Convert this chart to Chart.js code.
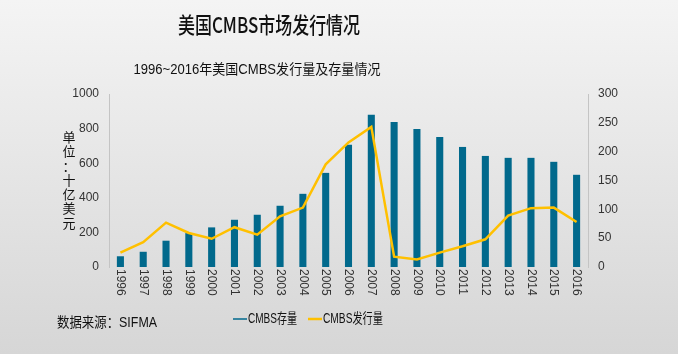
<!DOCTYPE html>
<html>
<head>
<meta charset="utf-8">
<script src="https://cdn.jsdelivr.net/npm/chart.js@4"></script>
<style>
  html, body { margin: 0; padding: 0; }
  body { width: 678px; height: 354px; background: linear-gradient(#f4f4f4, #d6d6d6); }
  #wrap { position: relative; width: 678px; height: 354px; }
</style>
</head>
<body>
<div id="wrap"><canvas id="cmbsChart" width="678" height="354"></canvas></div>
<script>
// years on the x axis
const years = ['1996','1997','1998','1999','2000','2001','2002','2003','2004','2005','2006',
  '2007','2008','2009','2010','2011','2012','2013','2014','2015','2016'];
// outstanding CMBS, left axis (billion USD)
const outstanding = [62, 88, 152, 196, 229, 273, 302, 354, 423, 544, 706,
  880, 838, 798, 752, 694, 642, 631, 631, 608, 533];
// CMBS issuance, right axis (billion USD)
const issuance = [25, 43, 77, 59, 49, 69, 56, 88, 103, 178, 216,
  243, 18, 13, 25, 36, 48, 89, 102, 103, 78];

const mainTitle = '美国CMBS市场发行情况';
const subTitle = '1996~2016年美国CMBS发行量及存量情况';
const yTitle = '单位：十亿美元';
const sourceNote = '数据来源：SIFMA';

const barColor = '#01698c';
const lineColor = '#ffc000';
const tickFont = '12px "Liberation Sans", "Noto Sans CJK SC", sans-serif';

// draws titles, rotated year labels, axis title, legend and source note
const decorations = {
  id: 'decorations',
  afterDraw(chart) {
    const ctx = chart.ctx;
    const xScale = chart.scales.x;
    ctx.save();
    ctx.fillStyle = '#111';
    ctx.textBaseline = 'middle';

    // main title, condensed to the reference width
    ctx.font = '500 22px "Noto Sans CJK SC", sans-serif';
    ctx.textAlign = 'center';
    ctx.fillText(mainTitle, 269, 25, 182);

    // subtitle
    ctx.font = '14px "Liberation Sans", "Noto Sans CJK SC", sans-serif';
    ctx.fillText(subTitle, 257, 70, 247);

    // year labels, rotated clockwise
    ctx.fillStyle = '#333';
    ctx.font = tickFont;
    ctx.textAlign = 'left';
    years.forEach((y, i) => {
      const x = xScale.getPixelForTick(i);
      ctx.save();
      ctx.translate(x, 269);
      ctx.rotate(Math.PI / 2);
      ctx.fillText(y, 0, 0);
      ctx.restore();
    });

    // vertical axis title, upright characters
    ctx.fillStyle = '#111';
    ctx.font = '13px "Noto Sans CJK SC", sans-serif';
    ctx.textAlign = 'center';
    [...yTitle].forEach((ch, i) => {
      ctx.fillText(ch, 69, 137 + i * 14.3);
    });

    // legend
    const items = [
      { label: chart.data.datasets[1].label, color: barColor, x: 233, w: 1.5, tw: 49 },
      { label: chart.data.datasets[0].label, color: lineColor, x: 308, w: 2.5, tw: 60 }
    ];
    ctx.font = '14px "Liberation Sans", "Noto Sans CJK SC", sans-serif';
    ctx.textAlign = 'left';
    items.forEach(it => {
      ctx.strokeStyle = it.color;
      ctx.lineWidth = it.w;
      ctx.beginPath();
      ctx.moveTo(it.x, 319);
      ctx.lineTo(it.x + 14, 319);
      ctx.stroke();
      ctx.fillStyle = '#111';
      ctx.fillText(it.label, it.x + 15, 319, it.tw);
    });

    // source note
    ctx.fillText(sourceNote, 57, 323, 100);
    ctx.restore();
  }
};

const tickOpts = (step) => ({
  stepSize: step,
  color: '#333',
  padding: 2,
  font: { family: '"Liberation Sans", sans-serif', size: 12 },
  callback: (v) => String(v)
});

new Chart(document.getElementById('cmbsChart'), {
  data: {
    labels: years,
    datasets: [
      {
        type: 'line',
        label: 'CMBS发行量',
        data: issuance,
        yAxisID: 'y1',
        borderColor: lineColor,
        borderWidth: 2.5,
        pointRadius: 0,
        tension: 0,
        order: 0
      },
      {
        type: 'bar',
        label: 'CMBS存量',
        data: outstanding,
        yAxisID: 'y',
        backgroundColor: barColor,
        barPercentage: 0.31,
        categoryPercentage: 1,
        order: 1
      }
    ]
  },
  options: {
    responsive: false,
    animation: false,
    layout: { padding: { top: 94, left: 0, right: 0, bottom: 0 } },
    plugins: {
      legend: { display: false },
      title: { display: false },
      tooltip: { enabled: false }
    },
    scales: {
      x: {
        grid: { display: false },
        border: { display: false },
        ticks: { display: false },
        afterFit(scale) { scale.height = 87; }
      },
      y: {
        position: 'left',
        min: 0,
        max: 1000,
        grid: { display: false },
        border: { display: true, color: '#c4c4c4' },
        ticks: tickOpts(200),
        afterFit(scale) { scale.width = 109; }
      },
      y1: {
        position: 'right',
        min: 0,
        max: 300,
        grid: { display: false },
        border: { display: true, color: '#c4c4c4' },
        ticks: tickOpts(50),
        afterFit(scale) { scale.width = 90; }
      }
    }
  },
  plugins: [decorations]
});
</script>
</body>
</html>
